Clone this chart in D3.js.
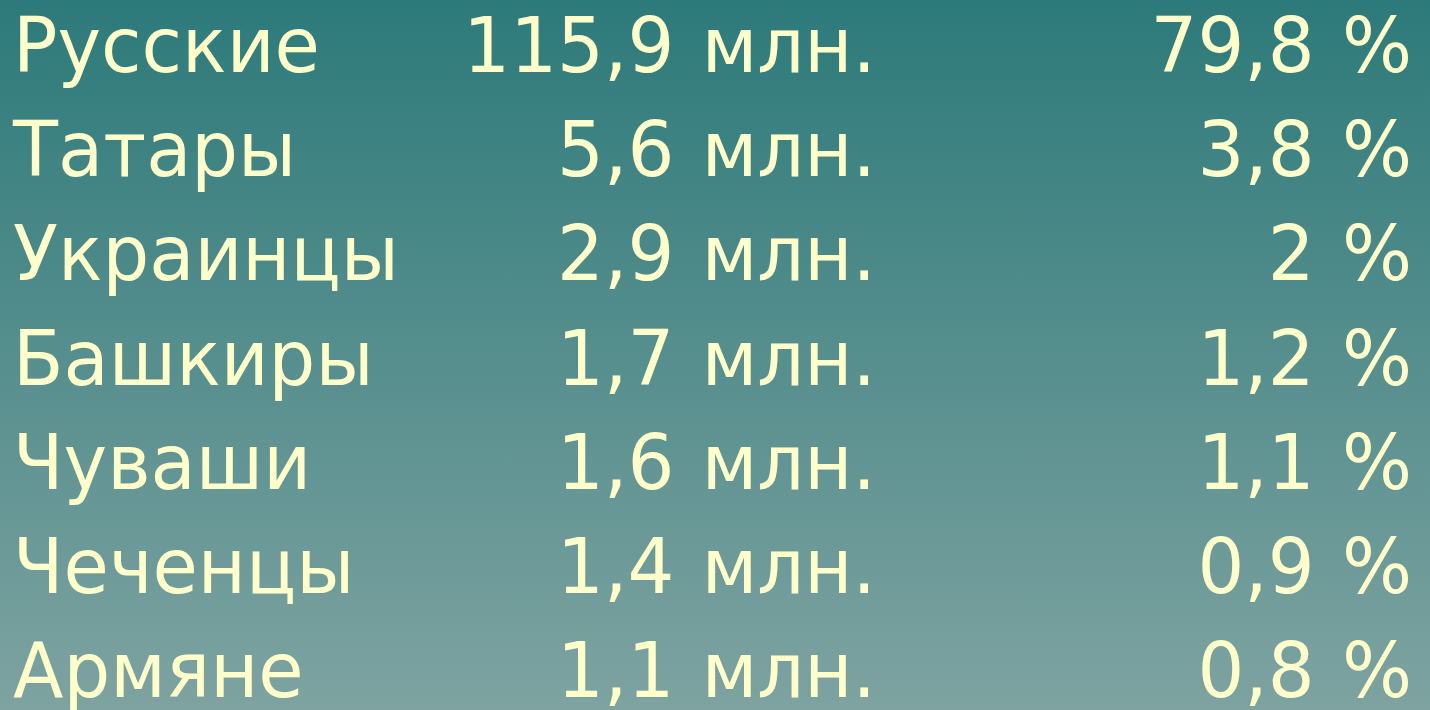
<!DOCTYPE html>
<html>
<head>
<meta charset="utf-8">
<script src="https://cdn.jsdelivr.net/npm/d3@7"></script>
<style>
  html, body { margin: 0; padding: 0; overflow: hidden; }
  svg { display: block; }
</style>
</head>
<body>
<svg id="chart" width="1430" height="710"></svg>
<script>
// Data
const peoples = ["Русские", "Татары", "Украинцы", "Башкиры", "Чуваши", "Чеченцы", "Армяне"];
const populationMln = [115.9, 5.6, 2.9, 1.7, 1.6, 1.4, 1.1];
const sharePct = [79.8, 3.8, 2, 1.2, 1.1, 0.9, 0.8];
const unitMln = "млн.";
const unitPct = "%";

const W = 1430, H = 710;
const svg = d3.select("#chart");

// Background gradient
const defs = svg.append("defs");
const grad = defs.append("linearGradient")
  .attr("id", "bg").attr("x1", 0).attr("y1", 0).attr("x2", 0).attr("y2", 1);
grad.append("stop").attr("offset", "0%").attr("stop-color", "#2d7a7a");
grad.append("stop").attr("offset", "100%").attr("stop-color", "#7ea3a1");
svg.append("rect").attr("width", W).attr("height", H).attr("fill", "url(#bg)");

const fmt = v => String(v).replace(".", ",");

const rows = peoples.map((p, i) => ({ name: p, pop: populationMln[i], pct: sharePct[i] }));

const y = d3.scalePoint().domain(peoples).range([72, 697]);
const sx = 0.97;

const g = svg.append("g")
  .style("font-family", "'DejaVu Sans', Verdana, sans-serif")
  .style("font-size", "76px")
  .style("word-spacing", "4px")
  .attr("fill", "#ffffcc");

const rowG = g.selectAll("g.row").data(rows).join("g").attr("class", "row")
  .attr("transform", d => `translate(0,${y(d.name)})`);

rowG.append("text").attr("transform", `translate(13,0) scale(${sx},1)`)
  .attr("text-anchor", "start").text(d => d.name);
rowG.append("text").attr("transform", `translate(876,0) scale(${sx},1)`)
  .attr("text-anchor", "end").text(d => `${fmt(d.pop)} ${unitMln}`);
rowG.append("text").attr("transform", `translate(1412,0) scale(${sx},1)`)
  .attr("text-anchor", "end").text(d => `${fmt(d.pct)} ${unitPct}`);
</script>
</body>
</html>
